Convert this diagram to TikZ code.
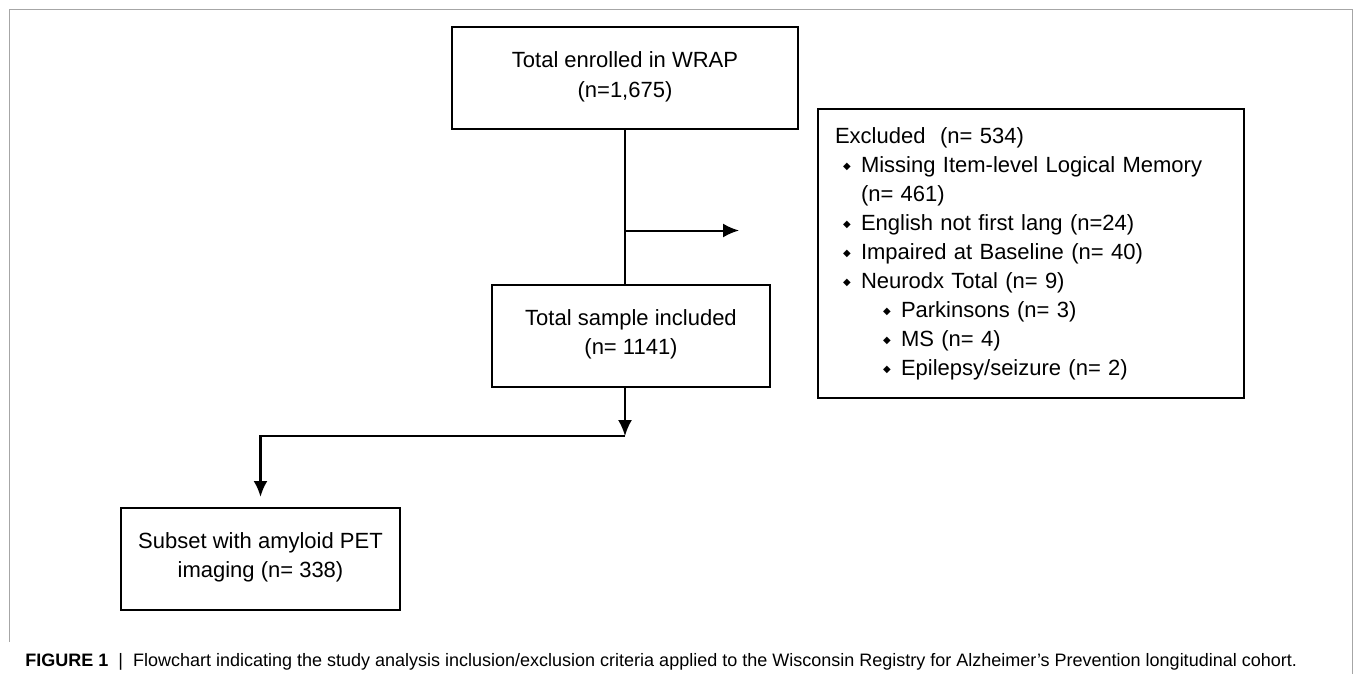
\documentclass[tikz,border=0pt]{standalone}
\usepackage{fontspec}
\setmainfont{Liberation Sans}
\newfontfamily\symbolfont{DejaVu Sans}
\usepackage{tikz}
\usetikzlibrary{arrows.meta}
\usetikzlibrary{calc}
\tikzset{>={Latex[length=8pt,width=7pt]}}
\newcommand{\diam}{\makebox[9pt][l]{\raisebox{0.2ex}{\symbolfont\fontsize{5}{5}\selectfont ◆}}}

\begin{document}
\begin{tikzpicture}[x=0.5pt, y=-0.5pt]
            \tikzset{flow box/.style={draw, line width=1pt, align=center, minimum height=51pt, inner sep=0pt, text depth=4pt, font={\fontsize{11}{14.75}\selectfont}}}
            \tikzset{excluded box/.style={draw, line width=1pt, anchor=north west, align=left, text width=196pt, inner xsep=8.5pt, inner ysep=0pt, minimum height=144.5pt, font={\fontsize{11}{14.5}\selectfont}}}
            \tikzset{link/.style={line width=1pt}}
            \useasboundingbox (0,0) rectangle (1355,674);
            % Frame
            \draw[gray!70, line width=0.5pt] (9,642) -- (9,10) -- (1352,10) -- (1352,674);
            % Boxes
            \node[flow box, minimum width=173pt] (enrolled) at (625,78.5) {Total enrolled in WRAP\\(n=1,675)};
            \node[flow box, minimum width=139pt] (included) at (631,336) {Total sample included\\(n= 1141)};
            \node[flow box, minimum width=139.5pt] (subset) at (260.5,559) {Subset with amyloid PET\\imaging (n= 338)};
            \node[excluded box] (excluded) at (817,108) {Excluded\ \ (n= 534)\\
                \hspace*{4pt}\diam Missing Item-level Logical Memory\\
                \hspace*{13pt}(n= 461)\\
                \hspace*{4pt}\diam English not first lang (n=24)\\
                \hspace*{4pt}\diam Impaired at Baseline (n= 40)\\
                \hspace*{4pt}\diam Neurodx Total (n= 9)\\
                \hspace*{24pt}\diam Parkinsons (n= 3)\\
                \hspace*{24pt}\diam MS (n= 4)\\
                \hspace*{24pt}\diam Epilepsy/seizure (n= 2)};
            % Connectors
            \coordinate (branch) at ([yshift=-50pt]enrolled.south);
            \coordinate (exclude tip) at ([xshift=57pt]branch);
            \coordinate (join) at ([yshift=-24pt]included.south -| enrolled.south);
            \coordinate (turn) at (join -| subset.north);
            \draw[link] (enrolled.south) -- (enrolled.south |- included.north);
            \draw[link, ->] (branch) -- (exclude tip);
            \draw[link, ->] (included.south -| enrolled.south) -- (join);
            \draw[link, line width=1.3pt, ->] (join) -- (turn) -- ([yshift=5pt]subset.north);
            % Caption
            \node[anchor=base west, inner sep=0pt, font={\fontsize{9}{11}\selectfont}] (caption) at (25,666) {\textbf{FIGURE 1}\ \ |\ \ Flowchart indicating the study analysis inclusion/exclusion criteria applied to the Wisconsin Registry for Alzheimer’s Prevention longitudinal cohort.};
\end{tikzpicture}
\end{document}
